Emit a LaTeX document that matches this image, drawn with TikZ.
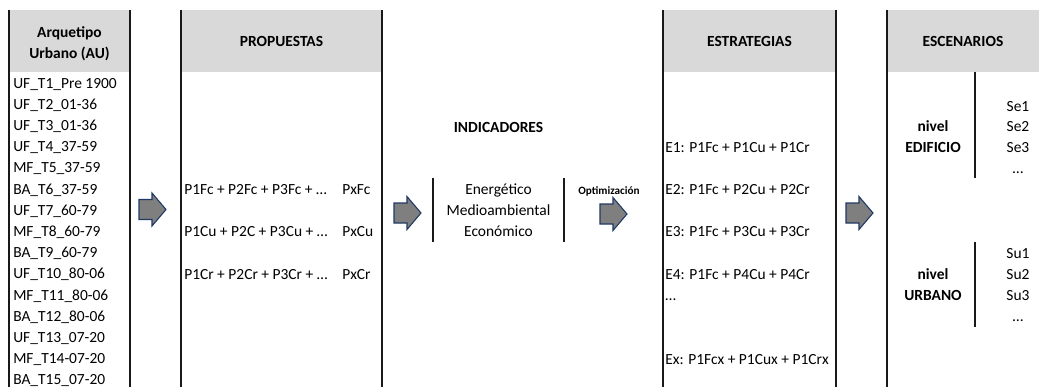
\documentclass[tikz,border=0pt]{standalone}
\usepackage{fontspec}
\setmainfont{Carlito}
\definecolor{hdrgray}{HTML}{D9D9D9}
\definecolor{arrgray}{HTML}{7F7F7F}
\definecolor{arrblue}{HTML}{1F3864}
\newcommand\blockarr[2]{%
  \draw[blockarrow] (#1,#2-10) -- (#1+13,#2-10) -- (#1+13,#2-16.5) -- (#1+27,#2)
    -- (#1+13,#2+16.5) -- (#1+13,#2+10) -- (#1,#2+10) -- cycle;}
\begin{document}
\begin{tikzpicture}[x=0.75pt,y=-0.75pt,
  txt/.style={inner sep=0pt, font=\fontsize{11.6}{14}\selectfont, anchor=base west},
  ctxt/.style={inner sep=0pt, font=\fontsize{11.6}{14}\selectfont, anchor=base},
  hdr/.style={inner sep=0pt, font=\bfseries\fontsize{11.6}{14}\selectfont, anchor=base},
  small/.style={inner sep=0pt, font=\bfseries\fontsize{8.4}{10}\selectfont, anchor=base},
  colline/.style={line width=1.2pt, draw=black!90},
  thinline/.style={line width=0.8pt, draw=black!90},
  blockarrow/.style={fill=arrgray, draw=arrblue, line width=0.8pt, line join=miter}]
\useasboundingbox (0,0) rectangle (1039,387);
% header fills
\fill[hdrgray] (9,10) rectangle (130,72);
\fill[hdrgray] (181,10) rectangle (382,72);
\fill[hdrgray] (663,10) rectangle (836,72);
\fill[hdrgray] (887,10) rectangle (1039,72);
% column lines
\draw[colline] (9,10) -- (9,387);
\draw[colline] (130,10) -- (130,387);
\draw[colline] (181,10) -- (181,387);
\draw[colline] (382,10) -- (382,387);
\draw[colline] (663,10) -- (663,387);
\draw[colline] (836,10) -- (836,387);
\draw[colline] (887,10) -- (887,387);
% inner lines
\draw[thinline] (433,178) -- (433,242);
\draw[thinline] (564,178) -- (564,242);
\draw[thinline] (975,72) -- (975,178);
\draw[thinline] (975,242) -- (975,327);
% headers
\node[hdr] (au1) at (69.5,37) {Arquetipo};
\node[hdr] (au2) at (69.5,58) {Urbano (AU)};
\node[hdr] (hprop) at (281.5,46) {PROPUESTAS};
\node[hdr] (hest) at (749.5,46) {ESTRATEGIAS};
\node[hdr] (hesc) at (963,46) {ESCENARIOS};
% archetypes
\foreach \t [count=\i] in {UF\_T1\_Pre 1900, UF\_T2\_01-36, UF\_T3\_01-36, UF\_T4\_37-59,
  MF\_T5\_37-59, BA\_T6\_37-59, UF\_T7\_60-79, MF\_T8\_60-79, BA\_T9\_60-79,
  UF\_T10\_80-06, MF\_T11\_80-06, BA\_T12\_80-06, UF\_T13\_07-20, MF\_T14-07-20, BA\_T15\_07-20}
  \node[txt] (au-\i) at (13,{83+(\i-1)*21.2+5}) {\t};
% propuestas
\node[txt] (p1) at (184,194) {P1Fc + P2Fc + P3Fc + …};
\node[txt] (p1x) at (342,194) {PxFc};
\node[txt] (p2) at (184,236) {P1Cu + P2C + P3Cu + …};
\node[txt] (p2x) at (342,236) {PxCu};
\node[txt] (p3) at (184,279) {P1Cr + P2Cr + P3Cr + …};
\node[txt] (p3x) at (342,279) {PxCr};
% indicadores
\node[hdr] (ind) at (498.5,132) {INDICADORES};
\node[ctxt] (i1) at (498.5,194) {Energético};
\node[ctxt] (i2) at (498.5,215) {Medioambiental};
\node[ctxt] (i3) at (498.5,236) {Económico};
\node[small] (opt) at (609,194) {Optimización};
% estrategias
\node[txt] (e1) at (665,152) {E1: P1Fc + P1Cu + P1Cr};
\node[txt] (e2) at (665,194) {E2: P1Fc + P2Cu + P2Cr};
\node[txt] (e3) at (665,236) {E3: P1Fc + P3Cu + P3Cr};
\node[txt] (e4) at (665,279) {E4: P1Fc + P4Cu + P4Cr};
\node[txt] (e5) at (665,300) {…};
\node[txt] (ex) at (665,364) {Ex: P1Fcx + P1Cux + P1Crx};
% escenarios
\node[hdr] (ne1) at (933,131) {nivel};
\node[hdr] (ne2) at (933,152) {EDIFICIO};
\node[ctxt] (se1) at (1018,111) {Se1};
\node[ctxt] (se2) at (1018,131) {Se2};
\node[ctxt] (se3) at (1018,152) {Se3};
\node[ctxt] (se4) at (1018,173) {…};
\node[hdr] (nu1) at (933,279) {nivel};
\node[hdr] (nu2) at (933,300) {URBANO};
\node[ctxt] (su1) at (1018,258) {Su1};
\node[ctxt] (su2) at (1018,279) {Su2};
\node[ctxt] (su3) at (1018,300) {Su3};
\node[ctxt] (su4) at (1018,321) {…};
% block arrows
\blockarr{139}{209.5}
\blockarr{394}{213}
\blockarr{600}{214}
\blockarr{846}{213}
\end{tikzpicture}
\end{document}
